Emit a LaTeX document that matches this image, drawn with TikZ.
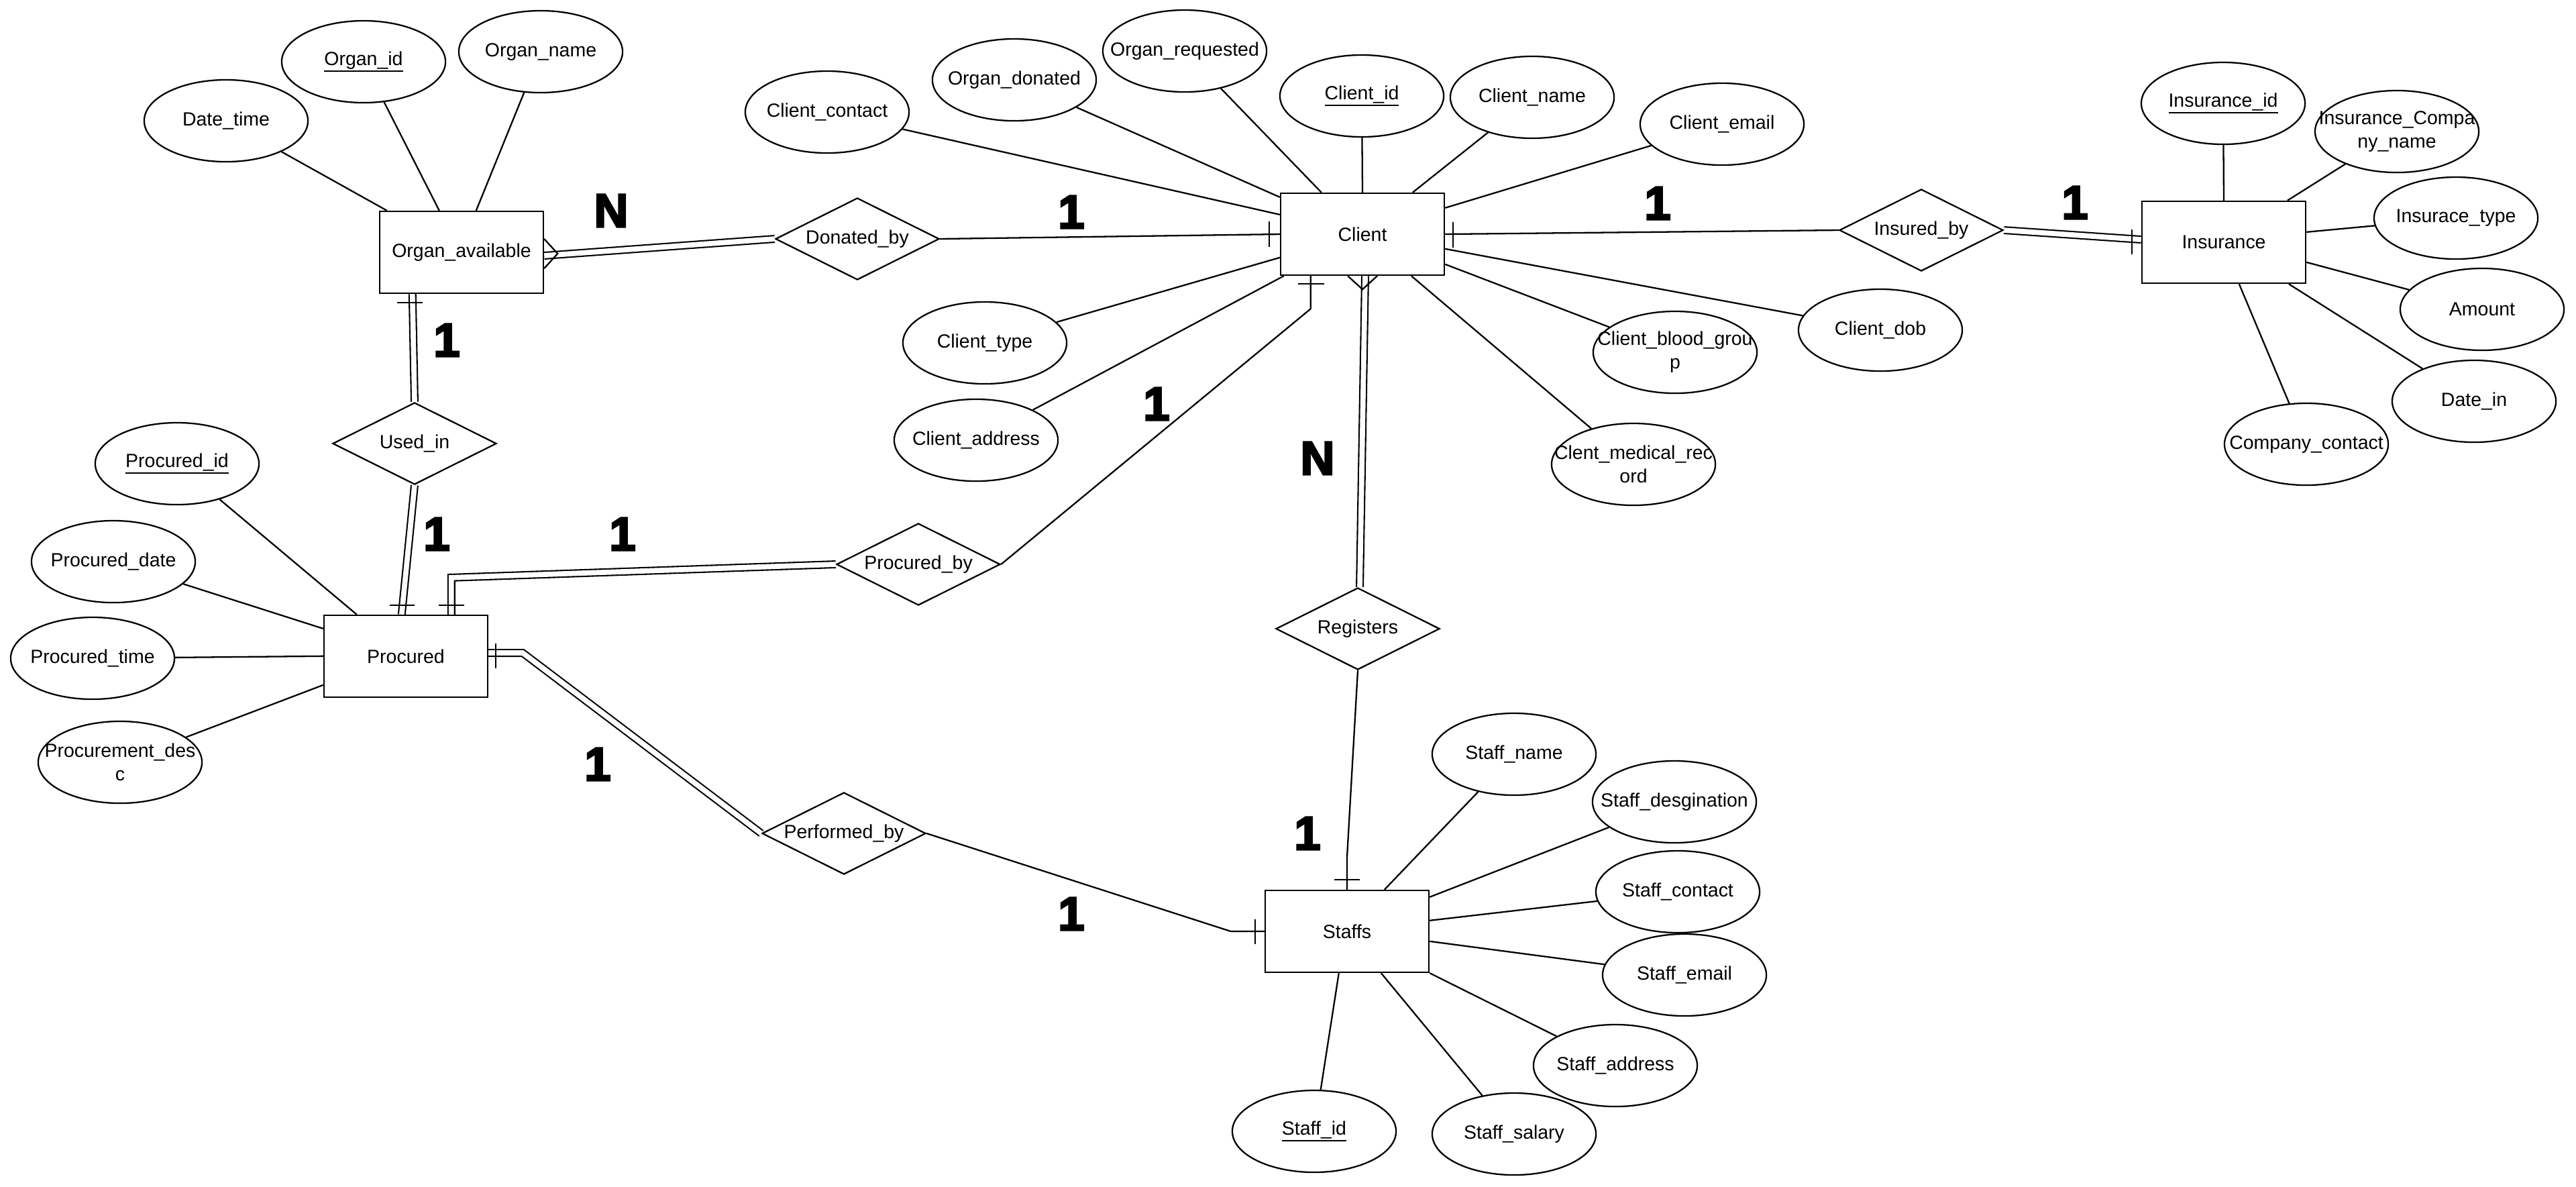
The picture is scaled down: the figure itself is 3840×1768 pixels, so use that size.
\documentclass[tikz,border=0pt]{standalone}
\usepackage{fontspec}
\setmainfont{Liberation Sans}
\newfontfamily\cardfont{Liberation Sans Bold}[FakeBold=4]
\usetikzlibrary{shapes.geometric,calc}
\newcommand{\zw}[1]{\makebox[0pt]{#1}}
\newcommand{\ul}[1]{\setbox0\hbox{#1}\rlap{\rule[-2.6pt]{\wd0}{0.6pt}}\box0}
\newcommand{\labfont}{\fontsize{8.1}{10}\selectfont}
\tikzset{
  base/.style={draw, line width=0.65pt, inner sep=0pt, font=\labfont},
  ent/.style={base, rectangle, minimum width=2.44cm, minimum height=1.22cm},
  rel/.style={base, diamond, minimum width=2.44cm, minimum height=1.22cm},
  attr/.style={base, ellipse, minimum width=2.44cm, minimum height=1.22cm, align=center},
  conn/.style={line width=0.65pt},
  dbl/.style={double, double distance=2.2pt, line width=0.6pt},
  card/.style={font=\cardfont\fontsize{20}{20}\selectfont, inner sep=0pt},
}
\begin{document}
\begin{tikzpicture}[x=0.01cm,y=-0.01cm]
\useasboundingbox (0,0) rectangle (3840,1768);
% entities
\node[ent] (oa) at (688,376) {\zw{Organ\_available}};
\node[ent] (cl) at (2031,349) {\zw{Client}};
\node[ent] (ins) at (3315,361) {\zw{Insurance}};
\node[ent] (pr) at (605,978) {\zw{Procured}};
\node[ent] (st) at (2008,1388) {\zw{Staffs}};
% relationships
\node[rel] (db) at (1278,356) {\zw{Donated\_by}};
\node[rel] (ib) at (2864,343) {\zw{Insured\_by}};
\node[rel] (ui) at (618,661) {\zw{Used\_in}};
\node[rel] (pb) at (1369,841) {\zw{Procured\_by}};
\node[rel] (pf) at (1258,1242) {\zw{Performed\_by}};
\node[rel] (rg) at (2024,937) {\zw{Registers}};
% Organ_available attributes
\node[attr] (a1) at (337,180) {\zw{Date\_time}};
\node[attr] (a2) at (542,92) {\zw{\ul{Organ\_id}}};
\node[attr] (a3) at (806,77) {\zw{Organ\_name}};
\draw[conn] (a1) -- ($(oa.north west)+(12,0)$);
\draw[conn] (a2) -- ($(oa.north west)+(90,0)$);
\draw[conn] (a3) -- ($(oa.north west)+(145,0)$);
% Client attributes
\node[attr] (c1) at (1233,167) {\zw{Client\_contact}};
\node[attr] (c2) at (1512,119) {\zw{Organ\_donated}};
\node[attr] (c3) at (1766,76) {\zw{Organ\_requested}};
\node[attr] (c4) at (2030,143) {\zw{\ul{Client\_id}}};
\node[attr] (c5) at (2284,145) {\zw{Client\_name}};
\node[attr] (c6) at (2567,185) {\zw{Client\_email}};
\node[attr] (c7) at (1468,511) {\zw{Client\_type}};
\node[attr] (c8) at (1455,656) {\zw{Client\_address}};
\node[attr] (c9) at (2497,525) {\zw{Client\_blood\_grou}\\\zw{p}};
\node[attr] (c10) at (2803,492) {\zw{Client\_dob}};
\node[attr] (c11) at (2435,692) {\zw{Clent\_medical\_rec}\\\zw{ord}};
\draw[conn] (c1) -- ($(cl.north west)+(0,33)$);
\draw[conn] (c2) -- ($(cl.north west)+(0,7)$);
\draw[conn] (c3) -- ($(cl.north west)+(62,0)$);
\draw[conn] (c4) -- (cl.north);
\draw[conn] (c5) -- ($(cl.north west)+(198,0)$);
\draw[conn] (c6) -- ($(cl.north east)+(0,23)$);
\draw[conn] (c7) -- ($(cl.north west)+(0,97)$);
\draw[conn] (c8) -- ($(cl.south west)+(6,0)$);
\draw[conn] (c9) -- ($(cl.north east)+(0,107)$);
\draw[conn] (c10) -- ($(cl.north east)+(0,84)$);
\draw[conn] (c11) -- ($(cl.south west)+(196,0)$);
% Insurance attributes
\node[attr] (i1) at (3314,154) {\zw{\ul{Insurance\_id}}};
\node[attr] (i2) at (3573,196) {\zw{Insurance\_Compa}\\\zw{ny\_name}};
\node[attr] (i3) at (3661,325) {\zw{Insurace\_type}};
\node[attr] (i4) at (3700,461) {\zw{Amount}};
\node[attr] (i5) at (3688,598) {\zw{Date\_in}};
\node[attr] (i6) at (3438,662) {\zw{Company\_contact}};
\draw[conn] (i1) -- (ins.north);
\draw[conn] (i2) -- ($(ins.north west)+(218,0)$);
\draw[conn] (i3) -- ($(ins.north east)+(0,47)$);
\draw[conn] (i4) -- ($(ins.north east)+(0,92)$);
\draw[conn] (i5) -- ($(ins.south west)+(220,0)$);
\draw[conn] (i6) -- ($(ins.south west)+(146,0)$);
% Procured attributes
\node[attr] (p1) at (264,691) {\zw{\ul{Procured\_id}}};
\node[attr] (p2) at (169,837) {\zw{Procured\_date}};
\node[attr] (p3) at (138,981) {\zw{Procured\_time}};
\node[attr] (p4) at (179,1136) {\zw{Procurement\_des}\\\zw{c}};
\draw[conn] (p1) -- ($(pr.north west)+(50,0)$);
\draw[conn] (p2) -- ($(pr.north west)+(0,21)$);
\draw[conn] (p3) -- ($(pr.north west)+(0,62)$);
\draw[conn] (p4) -- ($(pr.north west)+(0,105)$);
% Staffs attributes
\node[attr] (s1) at (2257,1124) {\zw{Staff\_name}};
\node[attr] (s2) at (2496,1195) {\zw{Staff\_desgination}};
\node[attr] (s3) at (2501,1329) {\zw{Staff\_contact}};
\node[attr] (s4) at (2511,1453) {\zw{Staff\_email}};
\node[attr] (s5) at (2408,1588) {\zw{Staff\_address}};
\node[attr] (s6) at (2257,1690) {\zw{Staff\_salary}};
\node[attr] (s7) at (1959,1686) {\zw{\ul{Staff\_id}}};
\draw[conn] (s1) -- ($(st.north west)+(179,0)$);
\draw[conn] (s2) -- ($(st.north east)+(0,11)$);
\draw[conn] (s3) -- ($(st.north east)+(0,46)$);
\draw[conn] (s4) -- ($(st.north east)+(0,77)$);
\draw[conn] (s5) -- (st.south east);
\draw[conn] (s6) -- ($(st.south west)+(174,0)$);
\draw[conn] (s7) -- ($(st.south west)+(111,0)$);
% relationship connectors
% Organ_available -- Donated_by (N, double)
\draw[dbl] ($(oa.east)+(0,5)$) -- (db.west);
\draw[conn] ($(oa.east)+(0,-20)$) -- ($(oa.east)+(20,2)$) -- ($(oa.east)+(0,24)$);
% Donated_by -- Client
\draw[conn] (db.east) -- (cl.west);
\draw[conn] ($(cl.west)+(-16,-19)$) -- ($(cl.west)+(-16,19)$);
% Client -- Insured_by
\draw[conn] (cl.east) -- (ib.west);
\draw[conn] ($(cl.east)+(12,-18)$) -- ($(cl.east)+(12,20)$);
% Insured_by -- Insurance (double)
\draw[dbl] (ib.east) -- ($(ins.west)+(0,-4)$);
\draw[conn] ($(ins.west)+(-14,-19)$) -- ($(ins.west)+(-14,18)$);
% Organ_available -- Used_in (double)
\draw[dbl] ($(oa.south west)+(50,0)$) -- (ui.north);
\draw[conn] ($(oa.south west)+(27,13)$) -- ($(oa.south west)+(65,13)$);
% Used_in -- Procured (double)
\draw[dbl] (ui.south) -- ($(pr.north west)+(117,0)$);
\draw[conn] ($(pr.north west)+(99,-14)$) -- ($(pr.north west)+(136,-14)$);
% Procured -- Procured_by (double)
\draw[dbl] ($(pr.north west)+(191,0)$) -- ++(0,-55) -- (pb.west);
\draw[conn] ($(pr.north west)+(172,-14)$) -- ($(pr.north west)+(210,-14)$);
% Procured_by -- Client
\draw[conn] (pb.east) -- ($(cl.south west)+(46,49)$) -- ($(cl.south west)+(46,0)$);
\draw[conn] ($(cl.south west)+(27,12)$) -- ($(cl.south west)+(66,12)$);
% Client -- Registers (N, double)
\draw[dbl] ($(cl.south)+(4,0)$) -- ($(rg.north)+(3,0)$);
\draw[conn] ($(cl.south)+(-22,0)$) -- ($(cl.south)+(0,20)$) -- ($(cl.south)+(22,0)$);
% Registers -- Staffs
\draw[conn] (rg.south) -- ($(st.north)+(0,-49)$) -- (st.north);
\draw[conn] ($(st.north)+(-19,-15)$) -- ($(st.north)+(19,-15)$);
% Procured -- Performed_by (double)
\draw[dbl] ($(pr.east)+(0,-5)$) -- ++(51,0) -- (pf.west);
\draw[conn] ($(pr.east)+(11,-19)$) -- ($(pr.east)+(11,18)$);
% Performed_by -- Staffs
\draw[conn] (pf.east) -- ($(st.west)+(-50,0)$) -- (st.west);
\draw[conn] ($(st.west)+(-14,-18)$) -- ($(st.west)+(-14,19)$);
% cardinality labels
\node[card] (k1) at (911,314) {N};
\node[card] (k2) at (1597,316) {1};
\node[card] (k3) at (2471,303) {1};
\node[card] (k4) at (3093,302) {1};
\node[card] (k5) at (666,507) {1};
\node[card] (k6) at (1964,683) {N};
\node[card] (k7) at (1724,602) {1};
\node[card] (k8) at (651,796) {1};
\node[card] (k9) at (928,796) {1};
\node[card] (k10) at (891,1139) {1};
\node[card] (k11) at (1597,1362) {1};
\node[card] (k12) at (1949,1242) {1};
\end{tikzpicture}
\end{document}
